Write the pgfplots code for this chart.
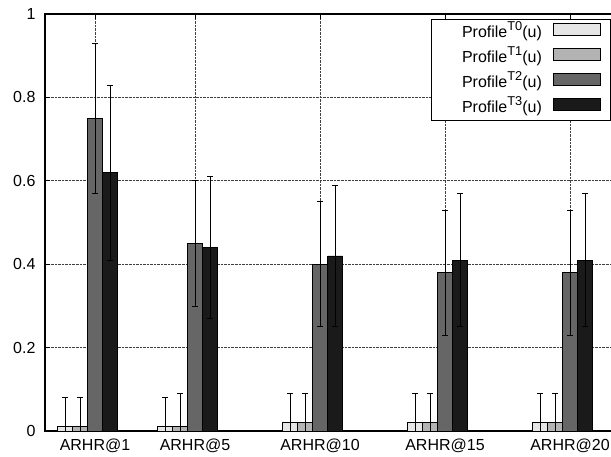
\documentclass[border=0pt]{standalone}
\usepackage{pgfplots}
\pgfplotsset{compat=1.18}
\usepackage{fontspec}
\setmainfont{Liberation Sans}
\definecolor{cA}{HTML}{E6E6E6}
\definecolor{cB}{HTML}{B3B3B3}
\definecolor{cC}{HTML}{666666}
\definecolor{cD}{HTML}{1A1A1A}
\newcommand{\sups}[1]{\raisebox{0.42em}{\fontsize{12.8bp}{14bp}\selectfont #1}}
\pgfplotsset{
  mybar/.style={ybar, bar width=15bp, bar shift=0bp, draw=black, line width=0.7bp, fill=#1,
    legend image code/.code={\draw[fill=#1, draw=black, line width=0.7bp] (0bp,-3.2bp) rectangle (47bp,8.8bp);},
    error bars/.cd, y dir=both, y explicit,
    error bar style={black, line width=0.6bp},
    error mark options={rotate=90, mark size=3bp, black, line width=0.6bp},
    /pgfplots/.cd},
}
\begin{document}
\begin{tikzpicture}
\useasboundingbox (0,0) rectangle (611bp,457bp);
\clip (0,0) rectangle (611bp,457bp);
\begin{axis}[
  at={(45bp,26bp)}, anchor=south west,
  scale only axis, width=575bp, height=417bp,
  xmin=-1, xmax=22, ymin=0, ymax=1,
  xtick={1,5,10,15,20},
  xticklabels={ARHR@1,ARHR@5,ARHR@10,ARHR@15,ARHR@20},
  ytick={0,0.2,0.4,0.6,0.8,1},
  yticklabels={0,0.2,0.4,0.6,0.8,1},
  grid=major,
  major grid style={densely dotted, black!75, line width=0.6bp},
  tick align=inside, major tick length=5bp,
  tick style={black, line width=0.8bp},
  axis line style={black, line width=1.2bp},
  tick label style={font=\fontsize{16bp}{19bp}\selectfont},
  yticklabel style={xshift=-6bp},
  xticklabel style={yshift=-4bp},
  legend plot pos=right,
  legend cell align=right,
  legend style={at={(0.9843,0.988)}, anchor=north east, draw=black, line width=0.8bp,
    font=\fontsize{16bp}{19bp}\selectfont, inner xsep=10bp, inner ysep=0.5bp,
    nodes={inner xsep=0bp, inner ysep=3.5bp, text height=14bp, text depth=4bp, text width=100bp, align=right},
    /tikz/every odd column/.append style={column sep=11bp}},
]
% Profile T0 (bars left of each group centre)
\addplot[mybar=cA] coordinates {
  (-0.2,0.01) +- (0,0.07)
  (3.8,0.01) +- (0,0.07)
  (8.8,0.02) +- (0,0.07)
  (13.8,0.02) +- (0,0.07)
  (18.8,0.02) +- (0,0.07)
};
% Profile T1
\addplot[mybar=cB] coordinates {
  (0.4,0.01) +- (0,0.07)
  (4.4,0.01) +- (0,0.08)
  (9.4,0.02) +- (0,0.07)
  (14.4,0.02) +- (0,0.07)
  (19.4,0.02) +- (0,0.07)
};
% Profile T2
\addplot[mybar=cC] coordinates {
  (1,0.75) +- (0,0.18)
  (5,0.45) +- (0,0.15)
  (10,0.40) +- (0,0.15)
  (15,0.38) +- (0,0.15)
  (20,0.38) +- (0,0.15)
};
% Profile T3
\addplot[mybar=cD] coordinates {
  (1.6,0.62) +- (0,0.21)
  (5.6,0.44) +- (0,0.17)
  (10.6,0.42) +- (0,0.17)
  (15.6,0.41) +- (0,0.16)
  (20.6,0.41) +- (0,0.16)
};
\legend{Profile\sups{T0}(u),Profile\sups{T1}(u),Profile\sups{T2}(u),Profile\sups{T3}(u)}
\end{axis}
\end{tikzpicture}
\end{document}
